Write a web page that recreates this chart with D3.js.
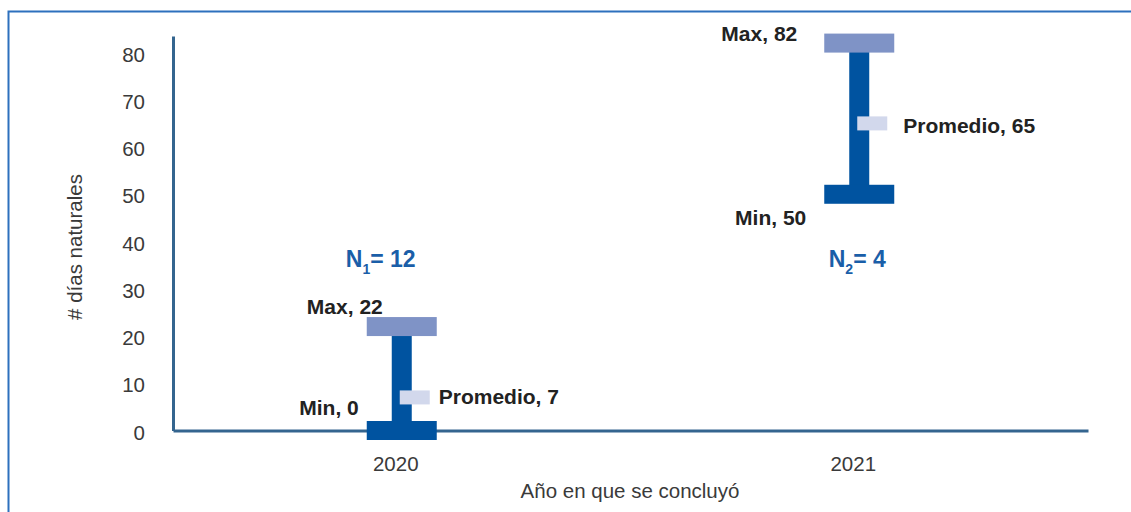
<!DOCTYPE html>
<html>
<head>
<meta charset="utf-8">
<script src="https://cdnjs.cloudflare.com/ajax/libs/d3/7.8.5/d3.min.js"></script>
<style>
  body { margin: 0; background: #fff; }
  svg { display: block; font-family: "Liberation Sans", Arial, sans-serif; }
</style>
</head>
<body>
<script>
// data
var years = ["2020", "2021"];
var minValues = [0, 50];
var maxValues = [22, 82];
var avgValues = [7, 65];
var nCounts = [12, 4];
var yTicks = [0, 10, 20, 30, 40, 50, 60, 70, 80];

// label placement relative to each bar (px), picked by eye
var maxLabelOff = [{ dx: -19, dy: -12.5 }, { dx: -62, dy: -2 }];
var minLabelOff = [{ dx: -43, dy: -15.5 }, { dx: -53, dy: 31 }];
var avgLabelOff = [{ dx: 37, dy: 6.5 }, { dx: 44, dy: 10 }];
var nLabelDx = [-21, -2];

// set the dimensions of the plot area
var width = 1131, height = 512;
var plot = { left: 173, right: 1088, bottom: 430.5, top: 36 };

var svg = d3.select("body").append("svg")
    .attr("width", width)
    .attr("height", height);

// frame
svg.append("path")
    .attr("d", "M8.5," + height + "V11.5H" + width)
    .attr("fill", "none")
    .attr("stroke", "#2d70bd")
    .attr("stroke-width", 2);

// scales
var x = d3.scaleBand().domain(years).range([plot.left, plot.right]);
var y = d3.scaleLinear().domain([0, 83.5]).range([plot.bottom, plot.top]);

var cx = function (i) { return x(years[i]) + x.bandwidth() / 2; };

// y axis
var yAxis = svg.append("g")
    .attr("transform", "translate(" + plot.left + ",0)")
    .call(d3.axisLeft(y).tickValues(yTicks).tickSize(0).tickPadding(28));
yAxis.select(".domain").attr("stroke", "#34658f").attr("stroke-width", 3);
yAxis.selectAll("text")
    .attr("font-size", 20.5)
    .attr("fill", "#3a3a3a")
    .attr("dy", "0.42em")
    .style("font-family", "Liberation Sans, Arial, sans-serif");

// x axis
var xAxis = svg.append("g")
    .attr("transform", "translate(0," + plot.bottom + ")")
    .call(d3.axisBottom(x).tickSize(0).tickPadding(26));
xAxis.select(".domain").attr("stroke", "#34658f").attr("stroke-width", 3);
xAxis.selectAll("text")
    .attr("font-size", 20.5)
    .attr("fill", "#3a3a3a")
    .attr("dx", -6)
    .style("font-family", "Liberation Sans, Arial, sans-serif");

// axis titles
svg.append("text")
    .attr("transform", "translate(82,247) rotate(-90)")
    .attr("text-anchor", "middle")
    .attr("font-size", 20.5)
    .attr("fill", "#3a3a3a")
    .text("# días naturales");

svg.append("text")
    .attr("x", 630)
    .attr("y", 498)
    .attr("text-anchor", "middle")
    .attr("font-size", 20.5)
    .attr("fill", "#3a3a3a")
    .text("Año en que se concluyó");

var idx = d3.range(years.length);
var capW = 70, capH = 19, stemW = 20;

// stems
svg.selectAll(".stem")
    .data(idx).enter().append("rect")
    .attr("x", function (i) { return cx(i) - stemW / 2; })
    .attr("y", function (i) { return y(maxValues[i]); })
    .attr("width", stemW)
    .attr("height", function (i) { return y(minValues[i]) - y(maxValues[i]); })
    .attr("fill", "#0053a0");

// min caps
svg.selectAll(".mincap")
    .data(idx).enter().append("rect")
    .attr("x", function (i) { return cx(i) - capW / 2; })
    .attr("y", function (i) { return y(minValues[i]) - capH / 2; })
    .attr("width", capW)
    .attr("height", capH)
    .attr("fill", "#0053a0");

// max caps
svg.selectAll(".maxcap")
    .data(idx).enter().append("rect")
    .attr("x", function (i) { return cx(i) - capW / 2; })
    .attr("y", function (i) { return y(maxValues[i]) - capH / 2; })
    .attr("width", capW)
    .attr("height", capH)
    .attr("fill", "#7f93c6");

// average markers
svg.selectAll(".avg")
    .data(idx).enter().append("rect")
    .attr("x", function (i) { return cx(i) - 2; })
    .attr("y", function (i) { return y(avgValues[i]) - 7; })
    .attr("width", 30)
    .attr("height", 14)
    .attr("fill", "#d2d8ec");

// value labels
function labels(vals, off, name, anchor) {
    svg.selectAll(".lbl-" + name)
        .data(idx).enter().append("text")
        .attr("x", function (i) { return cx(i) + off[i].dx; })
        .attr("y", function (i) { return y(vals[i]) + off[i].dy; })
        .attr("text-anchor", anchor)
        .attr("font-size", 21)
        .attr("font-weight", "bold")
        .attr("fill", "#222")
        .text(function (i) { return name + ", " + vals[i]; });
}
labels(maxValues, maxLabelOff, "Max", "end");
labels(minValues, minLabelOff, "Min", "end");
labels(avgValues, avgLabelOff, "Promedio", "start");

// N labels
var nText = svg.selectAll(".nlbl")
    .data(idx).enter().append("text")
    .attr("x", function (i) { return cx(i) + nLabelDx[i]; })
    .attr("y", 267)
    .attr("text-anchor", "middle")
    .attr("font-size", 23)
    .attr("font-weight", "bold")
    .attr("fill", "#1a5ea8");
nText.append("tspan").text("N");
nText.append("tspan")
    .attr("font-size", 14)
    .attr("dy", 7)
    .text(function (i) { return i + 1; });
nText.append("tspan")
    .attr("dy", -7)
    .text(function (i) { return "= " + nCounts[i]; });
</script>
</body>
</html>
